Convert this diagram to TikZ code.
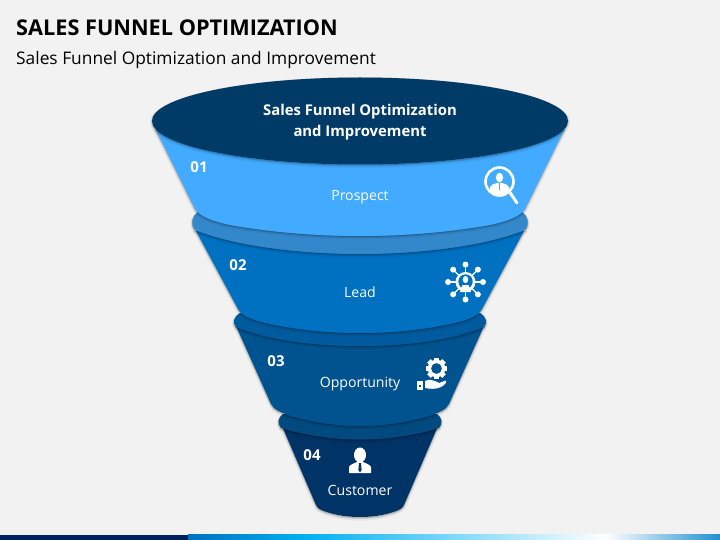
\documentclass[tikz,border=0pt]{standalone}
\usepackage{fontspec}
\setmainfont{Open Sans}
\definecolor{bgc}{HTML}{F2F2F2}
\definecolor{topc}{HTML}{003A66}
\definecolor{bodyA}{HTML}{42ABFF}
\definecolor{ringB}{HTML}{3388CC}
\definecolor{bodyB}{HTML}{0070C0}
\definecolor{ringC}{HTML}{005A9E}
\definecolor{bodyC}{HTML}{00538F}
\definecolor{ringD}{HTML}{004A80}
\definecolor{bodyD}{HTML}{003366}
\definecolor{navy}{HTML}{002060}
\definecolor{barcyan}{HTML}{00B0F0}
\definecolor{barend}{HTML}{2090D0}
\tikzset{
  softshade/.style={
    preaction={draw=black,draw opacity=.05,line width=4pt,transform canvas={yshift=-1.5pt}},
    preaction={draw=black,draw opacity=.10,line width=2pt,transform canvas={yshift=-1pt}},
    preaction={draw=black,draw opacity=.15,line width=.8pt,transform canvas={yshift=-.6pt}}},
  funnelpart/.style={softshade,line join=round},
  lbl/.style={text=white,font=\fontsize{14.1}{16}\selectfont,inner sep=0pt,anchor=center},
  num/.style={text=white,font=\bfseries\fontsize{15}{16}\selectfont,inner sep=0pt,anchor=center},
  icoline/.style={draw=white,line cap=round}
}
\begin{document}
\begin{tikzpicture}[x=1pt,y=-1pt]
\useasboundingbox (0,0) rectangle (720,540);
\fill[bgc] (0,0) rectangle (720,540);
% bottom bar
\fill[navy] (0,534.5) rectangle (188,540);
\shade[left color=bodyB,right color=barcyan] (188,534.5) rectangle (303,540);
\shade[left color=barcyan,right color=white] (303,534.5) rectangle (606,540);
\shade[left color=white,right color=barend] (606,534.5) rectangle (720,540);
% titles
\node[anchor=west,inner sep=0pt,font=\bfseries\fontsize{21.7}{24}\selectfont,text=black] (title) at (16,28) {SALES FUNNEL OPTIMIZATION};
\node[anchor=west,inner sep=0pt,font=\fontsize{17.35}{20}\selectfont,text=black] (subtitle) at (16,60) {Sales Funnel Optimization and Improvement};
% funnel 4
\fill[bodyD,funnelpart] (282,426) -- (316,505) .. controls (318,509) and (321,510) .. (325,511.5) .. controls (337,515.5) and (348,517) .. (360,517) .. controls (372,517) and (383,515.5) .. (395,511.5) .. controls (399,510) and (402,509) .. (404,505) -- (438,426) -- cycle;
\fill[ringD,funnelpart] (283,414) .. controls (278,418) and (277,423) .. (281,428) .. controls (300,434) and (330,439.5) .. (360,439.5) .. controls (390,439.5) and (420,434) .. (439,428) .. controls (443,423) and (442,418) .. (437,414) -- cycle;
% funnel 3
\fill[bodyC,funnelpart] (236,326) -- (271,404) .. controls (274,410) and (280,412) .. (288,415) .. controls (310,422) and (335,426) .. (360,426) .. controls (385,426) and (410,422) .. (432,415) .. controls (440,412) and (446,410) .. (449,404) -- (484,326) -- cycle;
\fill[ringC,funnelpart] (240,313) .. controls (234,317) and (232,322) .. (236,327) .. controls (265,339) and (310,346) .. (360,346) .. controls (410,346) and (455,339) .. (484,327) .. controls (488,322) and (486,317) .. (480,313) -- cycle;
% funnel 2
\fill[bodyB,funnelpart] (196,231) -- (238,309) .. controls (241,315) and (250,319) .. (262,322) .. controls (290,329) and (325,333) .. (360,333) .. controls (395,333) and (430,329) .. (458,322) .. controls (470,319) and (479,315) .. (482,309) -- (524,231) -- cycle;
\fill[ringB,funnelpart] (198,212) .. controls (192,216) and (190,224) .. (195,230) .. controls (235,246) and (300,254) .. (360,254) .. controls (420,254) and (485,246) .. (525,230) .. controls (530,224) and (528,216) .. (522,212) -- cycle;
% funnel 1
\fill[bodyA,funnelpart] (156,130) -- (195,209) .. controls (199,216) and (212,221) .. (230,225) .. controls (270,232) and (315,236) .. (360,236) .. controls (405,236) and (450,232) .. (490,225) .. controls (508,221) and (521,216) .. (525,209) -- (564,130) -- cycle;
% top ellipse
\fill[topc,softshade] (360,121) ellipse [x radius=208,y radius=43.5];
\node[text=white,font=\bfseries\fontsize{14.85}{21}\selectfont,align=center,inner sep=0pt] (head) at (360,122) {Sales Funnel Optimization\\and Improvement};
% labels
\node[num] (n1) at (199,167) {01};
\node[num] (n2) at (238,265) {02};
\node[num] (n3) at (276,361) {03};
\node[num] (n4) at (312,455) {04};
\node[lbl] (l1) at (360,197) {Prospect};
\node[lbl] (l2) at (360,292) {Lead};
\node[lbl] (l3) at (360,384) {Opportunity};
\node[lbl] (l4) at (360,490.5) {Customer};
% icon magnifier
\begin{scope}
\clip (499.5,181.5) circle (14);
\fill[white] (490,197) -- (490,187) .. controls (491,184.5) and (494,184) .. (497,183) -- (502,183) .. controls (505,184) and (508,184.5) .. (509,187) -- (509,197) -- cycle;
\end{scope}
\fill[white] (499.5,177.5) ellipse [x radius=3.6,y radius=4.8];
\fill[bodyA] (498.8,183.5) rectangle (500.2,190);
\draw[icoline,line width=2.6pt] (499.5,181.5) circle (14);
\draw[icoline,line width=3pt] (510,192.5) -- (517,203);
% icon network
\foreach \a in {0,45,...,315}{
  \draw[white,line width=1.2pt] (465.5,282) -- ++(\a:17);
  \fill[white] (465.5,282) ++(\a:17.5) circle (3);
}
\fill[white] (465.5,282) circle (10);
\fill[bodyB] (465.5,281.5) circle (7.2);
\fill[white] (465.5,279.5) ellipse [x radius=2.8,y radius=3.6];
\fill[white] (460,292) -- (462.5,285) -- (468.5,285) -- (471,292) -- cycle;
% icon gear
\fill[white,even odd rule] (436.5,368.5) circle (8.8) (436.5,368.5) circle (5.5);
\foreach \a in {0,45,...,315}{
  \fill[white,rotate around={\a:(436.5,368.5)}] (434,357.8) rectangle (439,361);
}
\fill[white] (416.5,380.5) rectangle (423,389.5);
\fill[bodyC] (419.4,385) rectangle (420.8,386.5);
\fill[white] (425,381) .. controls (429,379) and (432,380) .. (436,381.5) -- (439,383) -- (446,380.5) .. controls (447,382) and (445,385) .. (441,387) .. controls (436,389.5) and (430,389) .. (425,388) -- cycle;
% icon person
\fill[white] (360,455) ellipse [x radius=6,y radius=7.5];
\fill[white] (349,473) -- (349,467) .. controls (350,464.5) and (354,463.5) .. (357,462) -- (363,462) .. controls (366,463.5) and (370,464.5) .. (371,467) -- (371,473) -- cycle;
\fill[bodyD] (359,463) -- (361,463) -- (361.6,470) -- (360,472.5) -- (358.4,470) -- cycle;
\end{tikzpicture}
\end{document}
